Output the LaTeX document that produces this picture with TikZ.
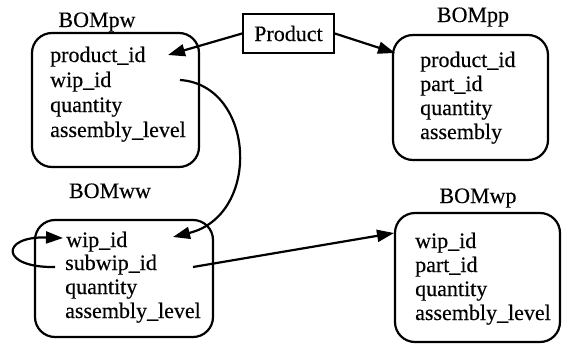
\documentclass[tikz,border=0pt]{standalone}
\usepackage{fontspec}
\setmainfont{Liberation Serif}
\newfontfamily\tms[FakeBold=0.3]{Liberation Serif}
\usetikzlibrary{arrows.meta}
\begin{document}
\begin{tikzpicture}[x=1pt,y=-1pt,
  tbl/.style={draw, line width=2.2pt, rounded corners=20pt, inner sep=0pt},
  fld/.style={anchor=base west, inner sep=0pt, font=\tms\fontsize{22}{26}\selectfont},
  ttl/.style={anchor=base, inner sep=0pt, font=\tms\fontsize{22}{26}\selectfont},
  entbox/.style={draw, line width=1.8pt, inner sep=0pt, font=\tms\fontsize{22}{26}\selectfont},
  conn/.style={line width=2.2pt, -{Triangle[length=17pt,width=12pt]}}
]
\useasboundingbox (0,0) rectangle (565,348);

% tables
\node[tbl, minimum width=167pt, minimum height=134pt] (pw) at (115.5,100) {};
\node[tbl, minimum width=155pt, minimum height=125pt] (pp) at (470.5,97.5) {};
\node[tbl, minimum width=178pt, minimum height=117pt] (ww) at (124,278.5) {};
\node[tbl, minimum width=165pt, minimum height=129pt] (wp) at (477.5,277.5) {};

% titles
\node[ttl] (pwt) at (97,27) {BOMpw};
\node[ttl] (ppt) at (473,22) {BOMpp};
\node[ttl] (wwt) at (110,198) {BOMww};
\node[ttl] (wpt) at (478,203) {BOMwp};

% Product
\node[entbox, minimum width=91pt, minimum height=39pt] (prod) at (288.5,33.5) {Product};

% fields BOMpw
\node[fld] (pw1) at (50,62) {product\_id};
\node[fld] (pw2) at (50,87) {wip\_id};
\node[fld] (pw3) at (50,112) {quantity};
\node[fld] (pw4) at (50,137) {assembly\_level};

% fields BOMpp
\node[fld] (pp1) at (420,67) {product\_id};
\node[fld] (pp2) at (420,91) {part\_id};
\node[fld] (pp3) at (420,115) {quantity};
\node[fld] (pp4) at (420,139) {assembly};

% fields BOMww
\node[fld] (ww1) at (66,247) {wip\_id};
\node[fld] (ww2) at (65,270) {subwip\_id};
\node[fld] (ww3) at (65,294) {quantity};
\node[fld] (ww4) at (65,318) {assembly\_level};

% fields BOMwp
\node[fld] (wp1) at (415,248) {wip\_id};
\node[fld] (wp2) at (415,272) {part\_id};
\node[fld] (wp3) at (415,296) {quantity};
\node[fld] (wp4) at (415,320) {assembly\_level};

% connector end points
\coordinate (a1) at (168,55);
\coordinate (a2) at (395,53);
\coordinate (b0) at (180,80);
\coordinate (b1) at (173,237);
\coordinate (c0) at (55,267);
\coordinate (c1) at (63,238);
\coordinate (d0) at (193,267);
\coordinate (d1) at (394,233);

\draw[conn] (prod.west) -- (a1);
\draw[conn] (prod.east) -- (a2);
\draw[conn] (b0) .. controls (255,85) and (262,215) .. (b1);
\draw[conn] (c0) .. controls (0,268) and (0,236) .. (c1);
\draw[conn] (d0) -- (d1);
\end{tikzpicture}
\end{document}
